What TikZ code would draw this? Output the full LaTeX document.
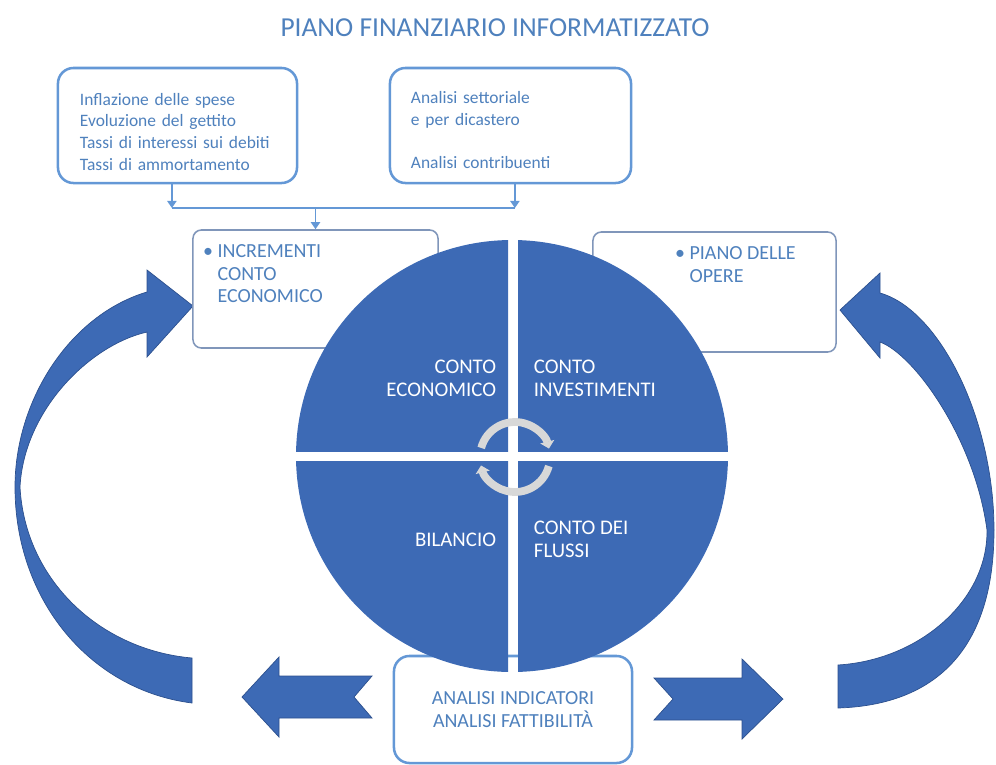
\documentclass[tikz,border=0pt]{standalone}
\usepackage{fontspec}
\setmainfont{Carlito}
\usepackage{xcolor}
\usetikzlibrary{arrows.meta,calc}
\definecolor{titleblue}{RGB}{79,129,189}
\definecolor{lineblue}{RGB}{100,152,214}
\definecolor{greyblue}{RGB}{128,150,186}
\definecolor{circblue}{RGB}{61,106,181}
\definecolor{edgeblue}{RGB}{44,80,142}
\definecolor{refreshgrey}{RGB}{216,216,216}
\newcommand\mytextfont{\fontsize{12.4}{15.5}\selectfont}
\newcommand\mycapsfont{\fontsize{14.2}{16}\selectfont}
\pgfkeys{tikz/mytitle/.style={text=titleblue,font=\fontsize{19.5}{22}\selectfont}}
\pgfkeys{tikz/mytopbox/.style={draw=lineblue,line width=1.8pt,rounded corners=11pt,fill=white,text=titleblue,align=left,inner xsep=0.55cm,font=\mytextfont}}
\pgfkeys{tikz/mysidebox/.style={draw=greyblue,line width=1.1pt,rounded corners=6pt,fill=white}}
\pgfkeys{tikz/mycaps/.style={text=titleblue,align=left,font=\mycapsfont}}
\pgfkeys{tikz/myqlabel/.style={text=white,font=\fontsize{14.8}{16.5}\selectfont}}
\pgfkeys{tikz/myconn/.style={draw=lineblue,line width=1.4pt}}
\pgfkeys{tikz/myribbon/.style={fill=circblue,draw=edgeblue,line width=0.5pt}}
\pgfkeys{tikz/myrefresh/.style={draw=refreshgrey,line width=5.5pt,-{Triangle[length=5pt,width=10pt]}}}
\newcommand*\myquadrant[4]{
    \begin{scope}
        \clip (#1,#2) rectangle (#3,#4);
        \fill[circblue] (hub) circle (216);
    \end{scope}
}

\begin{document}
\begin{tikzpicture}[x=0.025cm,y=-0.025cm]
    \useasboundingbox (0,0) rectangle (996,765);
    \node[mytitle] (title) at (495,28) {PIANO FINANZIARIO INFORMATIZZATO};
    % curved arrows left and right
    \path[myribbon] (192,703) .. controls (90,690) and (15,600) .. (15,487)
        .. controls (15,400) and (70,315) .. (147,292) -- (147,270) -- (193,306)
        -- (147,357) -- (147,332) .. controls (90,345) and (24,410) .. (20,487)
        .. controls (25,580) and (100,650) .. (192,658) -- cycle;
    \path[myribbon] (838,708) .. controls (935,705) and (994,650) .. (994,530)
        .. controls (994,420) and (940,310) .. (880,293) -- (880,273) -- (840,310)
        -- (880,358) -- (880,342) .. controls (915,355) and (975,440) .. (987,530)
        .. controls (988,600) and (920,660) .. (838,665) -- cycle;
    % boxes
    \node[mytopbox,text width=4.875cm,minimum height=2.875cm] (tl) at (177.5,125.5)
        {\rule{0pt}{17.5pt}Inflazione delle spese\\Evoluzione del gettito\\Tassi di interessi sui debiti\\Tassi di ammortamento};
    \node[mytopbox,inner xsep=0.525cm,text width=4.975cm,minimum height=2.875cm] (tr) at (510.5,125.5)
        {\rule{0pt}{15pt}Analisi settoriale\\e per dicastero\\[15.5pt]Analisi contribuenti};
    \node[mysidebox,minimum width=6.125cm,minimum height=2.95cm] (inc) at (315.5,289) {};
    \node[mysidebox,minimum width=6.075cm,minimum height=3cm] (po) at (714.5,292) {};
    \node[mycaps,anchor=north west] (inctext) at ([shift={(0.15cm,-0.27cm)}]inc.north west)
        {\textbullet\ INCREMENTI\\\hphantom{\textbullet\ }CONTO\\\hphantom{\textbullet\ }ECONOMICO};
    \node[mycaps,anchor=north west] (potext) at ([shift={(1.95cm,-0.27cm)}]po.north west)
        {\textbullet\ PIANO DELLE\\\hphantom{\textbullet\ }OPERE};
    \node[mytopbox,align=center,font=\mycapsfont,minimum width=5.95cm,minimum height=2.675cm] (an) at (513,709.5)
        {ANALISI INDICATORI\\ANALISI FATTIBILITÀ};
    % connectors
    \coordinate (busy) at (0,208);
    \draw[myconn,-{Triangle[length=5pt,width=6.5pt]}] ([xshift=-0.14cm]tl.south) -- ([xshift=-0.14cm]tl.south |- busy);
    \draw[myconn,-{Triangle[length=5pt,width=6.5pt]}] ([xshift=0.11cm]tr.south) -- ([xshift=0.11cm]tr.south |- busy);
    \draw[myconn] ([xshift=-0.14cm]tl.south |- busy) -- ([xshift=0.11cm]tr.south |- busy);
    \draw[myconn,-{Triangle[length=5pt,width=6.5pt]}] (inc.north |- busy) -- (inc.north);
    % circle
    \coordinate (hub) at (512,456);
    \myquadrant{290}{230}{508}{451}
    \myquadrant{518}{230}{735}{451}
    \myquadrant{290}{461}{508}{680}
    \myquadrant{518}{461}{735}{680}
    \node[myqlabel,anchor=east,align=right] (ce) at (501,378) {CONTO\\ECONOMICO};
    \node[myqlabel,anchor=west,align=left] (ci) at (529,378) {CONTO\\INVESTIMENTI};
    \node[myqlabel,anchor=east] (bil) at (501,540) {BILANCIO};
    \node[myqlabel,anchor=west,align=left] (cf) at (529,539) {CONTO DEI\\FLUSSI};
    \coordinate (spin) at (515,457);
    \draw[myrefresh] (spin) ++(-165:35) arc[start angle=-165,end angle=-14,radius=35];
    \draw[myrefresh] (spin) ++(15:35) arc[start angle=15,end angle=166,radius=35];
    % block arrows
    \path[myribbon] (242,697) -- (279,657) -- (279,676) -- (372,676) -- (354,697)
        -- (372,718) -- (279,718) -- (279,737) -- cycle;
    \path[myribbon] (783,699) -- (742,659) -- (742,678) -- (654,678) -- (673,699)
        -- (654,720) -- (742,720) -- (742,739) -- cycle;
\end{tikzpicture}
\end{document}
